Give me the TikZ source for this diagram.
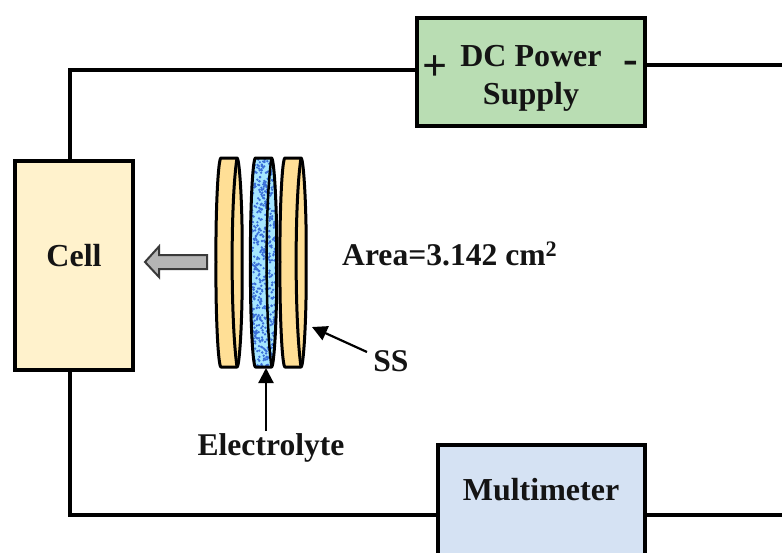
\documentclass[tikz,border=0pt]{standalone}
\usepackage{fontspec}
\setmainfont{Liberation Serif}
\usetikzlibrary{arrows.meta}
\definecolor{discfill}{HTML}{FFDF96}
\definecolor{cellfill}{HTML}{FFF2CC}
\definecolor{dcfill}{HTML}{B9DDB3}
\definecolor{mmfill}{HTML}{D5E2F3}
\definecolor{elecbase}{HTML}{A5E6FF}
\definecolor{elecdot}{HTML}{3A6FD8}
\definecolor{greyfill}{HTML}{B5B5B5}
\definecolor{greyline}{HTML}{3A3A3A}
\tikzset{
  block/.style={draw=black,line width=4pt,inner sep=0pt,outer sep=0pt},
  wire/.style={draw=black,line width=3.2pt},
  thickwire/.style={draw=black,line width=4.2pt},
  lbl/.style={font=\fontsize{32}{38}\selectfont\bfseries,inner sep=0pt,align=center,text=black!92},
  note/.style={font=\fontsize{31.6}{38}\selectfont\bfseries,inner sep=0pt,align=center,text=black!92},
  sign/.style={font=\fontsize{44}{44}\selectfont\bfseries,inner sep=0pt,text=black!92},
  pointer/.style={draw=black,line width=2.2pt,-{Triangle[length=15pt,width=15pt]}},
  rim/.style={draw=black,line width=3pt,line join=round},
}
\newcommand{\discoutline}[1]{%
  (#1+6,158) -- (#1+22,158) .. controls (#1+25,158) and (#1+28,220) .. (#1+27,262)
  .. controls (#1+28,304) and (#1+25,367) .. (#1+22,367)
  -- (#1+6,367) .. controls (#1+3,367) and (#1+0.5,310) .. (#1+1,262)
  .. controls (#1+0.5,214) and (#1+3,158) .. (#1+6,158) -- cycle}
\newcommand{\discinner}[1]{%
  (#1+22,158) .. controls (#1+15.5,200) and (#1+15.5,320) .. (#1+22,367)}
\begin{document}
\begin{tikzpicture}[x=1pt,y=-1pt]
\useasboundingbox (0,0) rectangle (782,552);
% blocks
\node[block,fill=cellfill,minimum width=118pt,minimum height=209pt] (cell) at (74,265.5) {};
\node[block,fill=dcfill,minimum width=228pt,minimum height=108pt] (dc) at (531,72) {};
\node[block,fill=mmfill,minimum width=207pt,minimum height=140pt] (mm) at (541.5,515) {};
% wiring
\coordinate (topcorner) at (70,70);
\coordinate (botcorner) at (70,515);
\coordinate (rightend) at (782,65);
\coordinate (rightendb) at (782,515);
\draw[wire] (topcorner |- cell.north) -- (topcorner) -- (topcorner -| dc.west);
\draw[thickwire] (dc.east |- rightend) -- (rightend);
\draw[wire] (botcorner |- cell.south) -- (botcorner) -- (botcorner -| mm.west);
\draw[wire] (mm.east |- rightendb) -- (rightendb);
% labels in blocks
\node[lbl] (celltxt) at (74,256) {Cell};
\node[lbl] (dctxt) at (531,78) {DC Power\\Supply};
\node[sign] (plus) at (435,68) {+};
\node[sign] (minus) at (631,67) {-};
\node[lbl] (mmtxt) at (541,490) {Multimeter};
% grey arrow
\draw[draw=greyline,fill=greyfill,line width=2pt,line join=miter]
  (207,255) -- (159,255) -- (159,246.5) -- (145,262) -- (159,277) -- (159,269) -- (207,269) -- cycle;
% discs
\fill[discfill] \discoutline{215};
\draw[rim] \discoutline{215};
\draw[rim] \discinner{215};
\fill[discfill] \discoutline{279};
\draw[rim] \discoutline{279};
\draw[rim] \discinner{279};
% electrolyte
\begin{scope}
  \clip \discoutline{249.5};
  \fill[elecbase] (245,150) rectangle (285,375);
  \pgfmathsetseed{7}
  \foreach \i in {1,...,520}{
    \pgfmathsetmacro{\px}{250+27*rnd}
    \pgfmathsetmacro{\py}{158+209*rnd}
    \fill[elecdot] (\px,\py) circle (1.3pt);
  }
\end{scope}
\draw[rim] \discoutline{249.5};
\draw[rim,line width=2.5pt] \discinner{249.5};
% annotations
\node[note,anchor=west] (area) at (342,254) {Area=3.142 cm\textsuperscript{2}};
\node[note] (ss) at (391,361) {SS};
\node[note] (elec) at (271,447.5) {Electrolyte};
\coordinate (sstail) at (367,352);
\coordinate (sstip) at (312,327);
\coordinate (eltail) at (266,431);
\coordinate (eltip) at (266,368);
\draw[pointer] (sstail) -- (sstip);
\draw[pointer] (eltail) -- (eltip);
\end{tikzpicture}
\end{document}
